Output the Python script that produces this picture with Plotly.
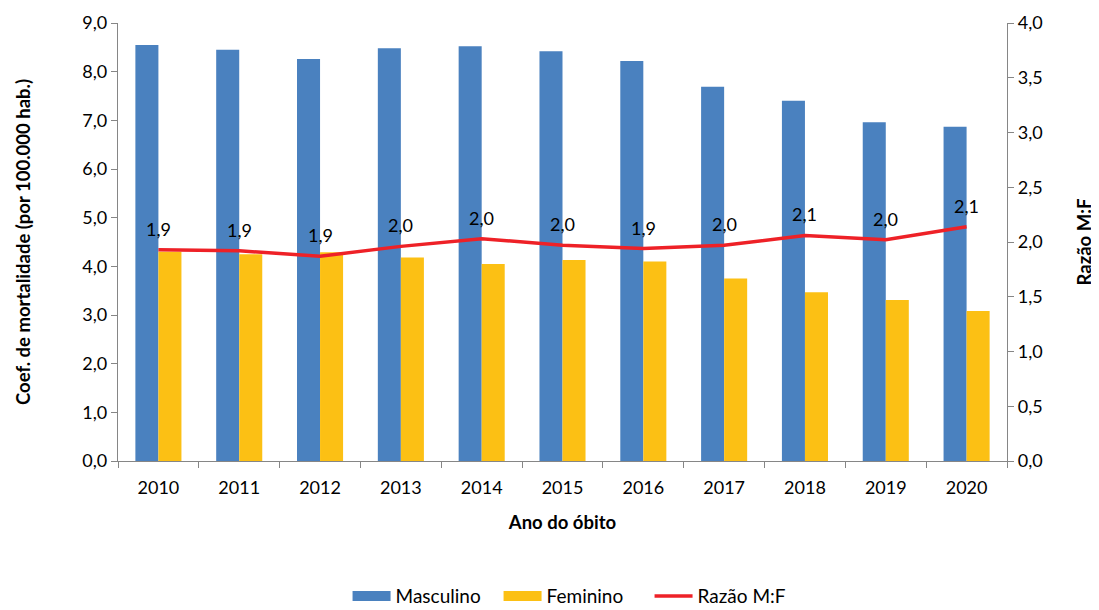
import plotly.graph_objects as go

anos = ["2010", "2011", "2012", "2013", "2014", "2015", "2016", "2017", "2018", "2019", "2020"]
masculino = [8.55, 8.45, 8.26, 8.48, 8.52, 8.42, 8.22, 7.69, 7.40, 6.96, 6.87]
feminino = [4.30, 4.25, 4.29, 4.18, 4.05, 4.13, 4.10, 3.75, 3.47, 3.31, 3.08]
razao = [1.93, 1.92, 1.87, 1.96, 2.03, 1.97, 1.94, 1.97, 2.06, 2.02, 2.14]
razao_labels = ["1,9", "1,9", "1,9", "2,0", "2,0", "2,0", "1,9", "2,0", "2,1", "2,0", "2,1"]
left_ticks = [0, 1, 2, 3, 4, 5, 6, 7, 8, 9]
right_ticks = [0, 0.5, 1, 1.5, 2, 2.5, 3, 3.5, 4]

FONT = "Lato"
BLUE = "#4a81bf"
YELLOW = "#fcc014"
RED = "#ee2127"
fmt = lambda v: f"{v:.1f}".replace(".", ",")

fig = go.Figure()
fig.add_trace(go.Bar(x=anos, y=masculino, name="Masculino", marker_color=BLUE,
                     marker_line_width=0, showlegend=False))
fig.add_trace(go.Bar(x=anos, y=feminino, name="Feminino", marker_color=YELLOW,
                     marker_line_width=0, showlegend=False))
fig.add_trace(go.Scatter(x=anos, y=razao, name="Razão M:F", mode="lines",
                         line=dict(color=RED, width=3.5), yaxis="y2", showlegend=False))

# legend entries (wide rectangles like the original)
for nm, col, w in [("Masculino", BLUE, 12), ("Feminino", YELLOW, 12), ("Razão M:F", RED, 3.5)]:
    fig.add_trace(go.Scatter(x=[anos[0]], y=[None], name=nm, mode="lines",
                             line=dict(color=col, width=w), showlegend=True,
                             hoverinfo="skip"))

for i, (r, lab) in enumerate(zip(razao, razao_labels)):
    fig.add_annotation(x=i, y=r, xref="x", yref="y2", text=lab, showarrow=False,
                       yshift=21, font=dict(size=18, color="black", family=FONT))

axis_common = dict(showgrid=False, showline=True, linecolor="#868686", linewidth=1.3,
                   ticks="outside", tickcolor="#868686", ticklen=6, zeroline=False,
                   automargin=False,
                   tickfont=dict(size=18, color="black", family=FONT))

fig.update_layout(
    width=1091, height=610,
    margin=dict(l=110, r=92, t=15, b=157),
    plot_bgcolor="white", paper_bgcolor="white",
    barmode="group", bargap=0.43, bargroupgap=0,
    font=dict(family=FONT, color="black"),
    xaxis=dict(**axis_common, type="category", tickson="boundaries", ticklabelstandoff=10,
               range=[-0.5, len(anos) - 0.5],
               title=dict(text="<b>Ano do óbito</b>", font=dict(size=18.5, family=FONT), standoff=19)),
    yaxis=dict(**axis_common, range=[0, 9], tickvals=left_ticks,
               ticktext=[fmt(v) for v in left_ticks],
               title=dict(text="<b>Coef. de mortalidade (por 100.000 hab.)</b>",
                          font=dict(size=18.5, family=FONT), standoff=46)),
    yaxis2=dict(**axis_common, range=[0, 4], tickvals=right_ticks,
                ticktext=[fmt(v) for v in right_ticks], overlaying="y", side="right",
                title=dict(text="<b>Razão M:F</b>", font=dict(size=18.5, family=FONT), standoff=36)),
    legend=dict(orientation="h", xref="paper", x=0.513, xanchor="center",
                yref="container", y=0.036, yanchor="middle",
                font=dict(size=19, family=FONT), traceorder="normal",
                itemwidth=38, entrywidth=98, tracegroupgap=0),
    showlegend=True,
)

fig.write_html("out.html")
